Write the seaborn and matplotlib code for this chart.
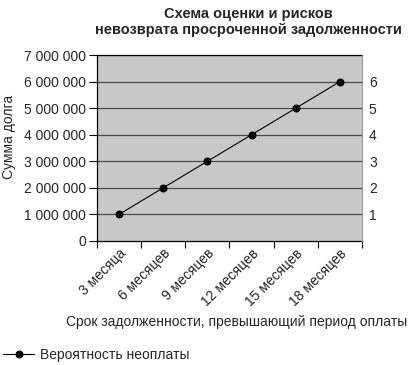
import matplotlib

matplotlib.use("Agg")

import matplotlib.pyplot as plt
import numpy as np
import pandas as pd
import seaborn as sns

periods = ["3 месяца", "6 месяцев", "9 месяцев", "12 месяцев", "15 месяцев", "18 месяцев"]
probability = [1, 2, 3, 4, 5, 6]
debt_ticks = [0, 1000000, 2000000, 3000000, 4000000, 5000000, 6000000, 7000000]
prob_ticks = [1, 2, 3, 4, 5, 6]

title = "Схема оценки и рисков\nневозврата просроченной задолженности"
x_label = "Срок задолженности, превышающий период оплаты"
y_label = "Сумма долга"
series_name = "Вероятность неоплаты"


def fmt_thousands(value: float) -> str:
    return f"{int(value):,}".replace(",", " ")


def main() -> None:
    sns.set_theme(style="ticks")
    plt.rcParams["font.family"] = ["Liberation Sans", "DejaVu Sans"]

    fig = plt.figure(figsize=(4.18, 3.65), dpi=100)
    ax = fig.add_axes([0.232, 0.340, 0.634, 0.509])
    ax.set_facecolor("#c8c8c8")

    # left axis: debt amount
    ax.set_ylim(0, debt_ticks[-1])
    ax.set_yticks(debt_ticks)
    ax.set_yticklabels([fmt_thousands(v) for v in debt_ticks], fontsize=10)
    ax.tick_params(axis="y", length=6, width=0.8, color="black", pad=2)
    for v in debt_ticks[1:]:
        ax.axhline(v, color="#4a4a4a", linewidth=0.9, zorder=1)

    # right axis: probability, drawn with seaborn
    ax2 = ax.twinx()
    data = pd.DataFrame({"period": periods, "prob": probability})
    sns.lineplot(data=data, x="period", y="prob", ax=ax2, sort=False, color="black",
                 linewidth=0.8, marker="o", markersize=5, markeredgecolor="black",
                 label=series_name, legend=False)
    ax2.set_ylim(0, 7)
    ax2.set_yticks(prob_ticks)
    ax2.set_yticklabels([str(v) for v in prob_ticks], fontsize=10)
    ax2.tick_params(axis="y", length=0, pad=5)
    ax2.set_ylabel("")
    ax2.set_xlabel("")

    n = len(periods)
    ax.set_xlim(-0.5, n - 0.5)
    ax.set_xticks(np.arange(-0.5, n), labels=[""] * (n + 1))
    ax.set_xticks(np.arange(n), minor=True)
    ax.set_xticklabels(periods, minor=True, rotation=45, ha="right",
                       rotation_mode="anchor", fontsize=10)
    ax.tick_params(axis="x", which="major", length=5, width=0.8, color="black")
    ax.tick_params(axis="x", which="minor", length=0, pad=4)

    for axis in (ax, ax2):
        for side in ("left", "bottom", "top", "right"):
            axis.spines[side].set_visible(False)
    for side in ("left", "bottom", "top"):
        ax.spines[side].set_visible(True)
        ax.spines[side].set_color("black")
        ax.spines[side].set_linewidth(0.9)
    ax2.spines["right"].set_visible(True)
    ax2.spines["right"].set_color("#9a9a9a")
    ax2.spines["right"].set_linewidth(0.8)

    ax.set_ylabel(y_label, fontsize=10)
    ax.yaxis.set_label_coords(-0.305, 0.56)
    ax.set_xlabel("")

    fig.text(248 / 418, 1 - 22 / 365, title, ha="center", va="center",
             fontsize=10.5, fontweight="bold", linespacing=1.2)
    fig.text(237 / 418, 1 - 322 / 365, x_label, ha="center", va="center", fontsize=10)

    handles, labels = ax2.get_legend_handles_labels()
    fig.legend(handles, labels, loc="center left", bbox_to_anchor=(-0.005, 1 - 355 / 365),
               frameon=False, fontsize=10, handlelength=2.2, handletextpad=0.4,
               borderaxespad=0)

    fig.savefig("out.png", dpi=100)
    plt.close(fig)


if __name__ == "__main__":
    main()
